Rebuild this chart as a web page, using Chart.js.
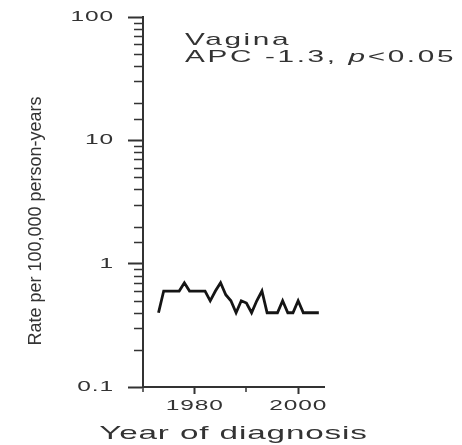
<!DOCTYPE html>
<html>
<head>
<meta charset="utf-8">
<script src="https://cdn.jsdelivr.net/npm/chart.js@4.4.1/dist/chart.umd.min.js"></script>
<style>
  html, body { margin: 0; padding: 0; background: #fff; }
</style>
</head>
<body>
<canvas id="rateChart" width="462" height="445"></canvas>
<script>
// Vagina - rate per 100,000 person-years, by year of diagnosis
const years = [1973, 1974, 1975, 1976, 1977, 1978, 1979, 1980, 1981, 1982,
               1983, 1984, 1985, 1986, 1987, 1988, 1989, 1990, 1991, 1992,
               1993, 1994, 1995, 1996, 1997, 1998, 1999, 2000, 2001, 2002,
               2003, 2004];
const rates = [0.40, 0.60, 0.60, 0.60, 0.60, 0.70, 0.60, 0.60, 0.60, 0.60,
               0.50, 0.60, 0.70, 0.56, 0.50, 0.40, 0.50, 0.48, 0.40, 0.50,
               0.60, 0.40, 0.40, 0.40, 0.50, 0.40, 0.40, 0.50, 0.40, 0.40,
               0.40, 0.40];

const xTickValues = [1970, 1980, 1990, 2000];
const xTickLabels = ['', '1980', '', '2000'];
const yTickValues = [0.1, 1, 10, 100];
const yTickLabels = ['0.1', '1', '10', '100'];

const siteLabel = 'Vagina';
const apcLabel = ['APC -1.3, ', 'p', '<0.05'];
const yTitle = 'Rate per 100,000 person-years';
const xTitle = 'Year of diagnosis';

const FONT = "'Liberation Sans', Arial, sans-serif";
const INK = '#333';
const STRETCH = 1.75; // the original print has wide, stretched lettering

const isMajorY = v => yTickValues.some(m => Math.abs(m - v) < 1e-9);

// widen horizontal text around its anchor point (keeps left/center/right alignment)
function wideText(ctx) {
    if (ctx.__plainFill) return;
    const plain = ctx.fillText;
    ctx.__plainFill = plain;
    ctx.__stretch = 1;
    ctx.fillText = function (text, x, y) {
        this.save();
        this.translate(x, y);
        this.scale(this.__stretch, 1);
        plain.call(this, text, 0, 0);
        this.restore();
    };
}

const extrasPlugin = {
    id: 'extras',
    beforeDraw(chart) {
        const ctx = chart.ctx;
        wideText(ctx);
        ctx.__stretch = STRETCH;
        ctx.letterSpacing = '0.5px';
    },
    afterDraw(chart) {
        const ctx = chart.ctx;
        const x = chart.scales.x;
        const y = chart.scales.y;

        // shorter minor ticks
        ctx.save();
        ctx.strokeStyle = INK;
        ctx.lineWidth = 1.5;
        ctx.beginPath();
        y.ticks.forEach(t => {
            if (isMajorY(t.value)) return;
            const py = Math.round(y.getPixelForValue(t.value)) + 0.5;
            ctx.moveTo(y.right - 9, py);
            ctx.lineTo(y.right, py);
        });
        x.ticks.forEach((t, i) => {
            if (xTickLabels[i]) return;
            const px = Math.round(x.getPixelForValue(t.value));
            ctx.moveTo(px, x.top);
            ctx.lineTo(px, x.top + 5);
        });
        ctx.stroke();

        // y axis title, not stretched
        ctx.__stretch = 1;
        ctx.letterSpacing = '0px';
        ctx.fillStyle = INK;
        ctx.font = `18px ${FONT}`;
        ctx.translate(36, 221);
        ctx.rotate(-Math.PI / 2);
        ctx.textAlign = 'center';
        ctx.textBaseline = 'middle';
        ctx.fillText(yTitle, 0, 0);
        ctx.restore();

        // note in the top right
        ctx.save();
        ctx.__stretch = STRETCH;
        ctx.letterSpacing = '1.5px';
        ctx.fillStyle = INK;
        ctx.textAlign = 'left';
        ctx.textBaseline = 'alphabetic';
        ctx.font = `17px ${FONT}`;
        ctx.fillText(siteLabel, 185, 45);
        let cx = 185;
        apcLabel.forEach((part, i) => {
            ctx.font = (i === 1 ? 'italic ' : '') + `17px ${FONT}`;
            ctx.fillText(part, cx, 62);
            cx += ctx.measureText(part).width * STRETCH;
        });
        ctx.restore();
    }
};

const ctx = document.getElementById('rateChart').getContext('2d');

new Chart(ctx, {
    type: 'line',
    data: {
        datasets: [{
            label: siteLabel,
            data: years.map((yr, i) => ({ x: yr, y: rates[i] })),
            borderColor: '#151515',
            borderWidth: 2.8,
            pointRadius: 0,
            tension: 0,
            fill: false
        }]
    },
    options: {
        responsive: false,
        animation: false,
        layout: { padding: { left: 0, top: 17, right: 138, bottom: 0 } },
        plugins: {
            legend: { display: false },
            tooltip: { enabled: false }
        },
        scales: {
            x: {
                type: 'linear',
                min: 1970,
                max: 2005,
                afterBuildTicks: scale => {
                    scale.ticks = xTickValues.map(v => ({ value: v }));
                },
                afterFit: scale => { scale.height = 58; },
                border: { display: true, color: INK, width: 2 },
                grid: {
                    drawOnChartArea: false,
                    drawTicks: true,
                    tickLength: 7,
                    tickWidth: 2,
                    tickColor: c => (xTickLabels[c.index] ? INK : 'transparent')
                },
                ticks: {
                    autoSkip: false,
                    maxRotation: 0,
                    minRotation: 0,
                    padding: 4,
                    color: INK,
                    font: { family: FONT, size: 14 },
                    callback: (value, i) => xTickLabels[i]
                },
                title: {
                    display: true,
                    text: xTitle,
                    color: INK,
                    font: { family: FONT, size: 19 },
                    padding: { top: 0, bottom: 0 }
                }
            },
            y: {
                type: 'logarithmic',
                min: 0.1,
                max: 100,
                afterFit: scale => {
                    scale.width = 143;
                    scale.paddingTop = 0;
                    scale.paddingBottom = 0;
                },
                border: { display: true, color: INK, width: 2 },
                grid: {
                    drawOnChartArea: false,
                    drawTicks: true,
                    tickLength: 15,
                    tickWidth: 2,
                    tickColor: c => (c.tick && isMajorY(c.tick.value) ? INK : 'transparent')
                },
                ticks: {
                    autoSkip: false,
                    padding: 14,
                    color: INK,
                    font: { family: FONT, size: 14 },
                    callback: value => {
                        const k = yTickValues.findIndex(m => Math.abs(m - value) < 1e-9);
                        return k >= 0 ? yTickLabels[k] : '';
                    }
                },
                title: { display: false }
            }
        }
    },
    plugins: [extrasPlugin]
});
</script>
</body>
</html>
